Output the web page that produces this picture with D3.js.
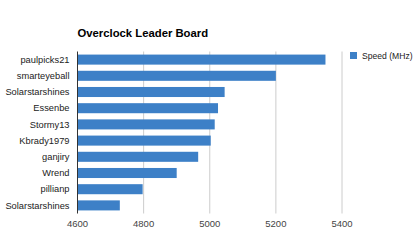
<!DOCTYPE html>
<html>
<head>
<meta charset="utf-8">
<script src="https://cdn.jsdelivr.net/npm/d3@7"></script>
<style>
  body { margin: 0; background: #fff; }
  text { font-family: "Liberation Sans", Arial, sans-serif; }
</style>
</head>
<body>
<div id="chart"></div>
<script>
// data
var names = ["paulpicks21", "smarteyeball", "Solarstarshines", "Essenbe", "Stormy13",
             "Kbrady1979", "ganjiry", "Wrend", "pillianp", "Solarstarshines"];
var speeds = [5350, 5200, 5045, 5025, 5015, 5003, 4965, 4900, 4797, 4728];
var xTicks = [4600, 4800, 5000, 5200, 5400];
var seriesName = "Speed (MHz)";

var W = 420, H = 250;
var plotLeft = 77.5, plotRight = 342, plotTop = 51.5, plotBottom = 213.5;

var svg = d3.select("#chart").append("svg")
  .attr("width", W)
  .attr("height", H);

var x = d3.scaleLinear().domain([4600, 5400]).range([plotLeft, plotRight]);
var y = d3.scaleBand()
  .domain(d3.range(names.length))
  .range([plotTop, plotBottom])
  .paddingInner(0.38)
  .paddingOuter(0.19);

// gridlines
svg.selectAll("line.grid")
  .data(xTicks.slice(1))
  .enter()
  .append("line")
    .attr("x1", function(d) { return x(d); })
    .attr("x2", function(d) { return x(d); })
    .attr("y1", plotTop)
    .attr("y2", plotBottom)
    .style("stroke", "#cccccc")
    .style("stroke-width", 1);

// bars
svg.selectAll("rect.bar")
  .data(speeds)
  .enter()
  .append("rect")
    .attr("x", x(4600))
    .attr("y", function(d, i) { return y(i); })
    .attr("width", function(d) { return x(d) - x(4600); })
    .attr("height", y.bandwidth())
    .style("fill", "#3d80c7");

// baseline axis
svg.append("line")
  .attr("x1", plotLeft).attr("x2", plotLeft)
  .attr("y1", plotTop).attr("y2", plotBottom)
  .style("stroke", "#333333")
  .style("stroke-width", 1);

// category labels
svg.selectAll("text.cat")
  .data(names)
  .enter()
  .append("text")
    .attr("x", plotLeft - 8)
    .attr("y", function(d, i) { return y(i) + y.bandwidth() / 2; })
    .attr("dy", "0.35em")
    .attr("text-anchor", "end")
    .style("font-size", "9.3px")
    .style("fill", "#222222")
    .text(function(d) { return d; });

// x tick labels
svg.selectAll("text.tick")
  .data(xTicks)
  .enter()
  .append("text")
    .attr("x", function(d) { return x(d); })
    .attr("y", 227)
    .attr("text-anchor", "middle")
    .style("font-size", "9.5px")
    .style("fill", "#444444")
    .text(function(d) { return d; });

// title
svg.append("text")
  .attr("x", plotLeft)
  .attr("y", 37)
  .style("font-size", "11.3px")
  .style("font-weight", "bold")
  .style("fill", "#000000")
  .text("Overclock Leader Board");

// legend
svg.append("rect")
  .attr("x", 350).attr("y", 52)
  .attr("width", 7).attr("height", 7)
  .style("fill", "#3d80c7");
svg.append("text")
  .attr("x", 362)
  .attr("y", 55.5)
  .attr("dy", "0.35em")
  .style("font-size", "8.6px")
  .style("fill", "#222222")
  .text(seriesName);
</script>
</body>
</html>
